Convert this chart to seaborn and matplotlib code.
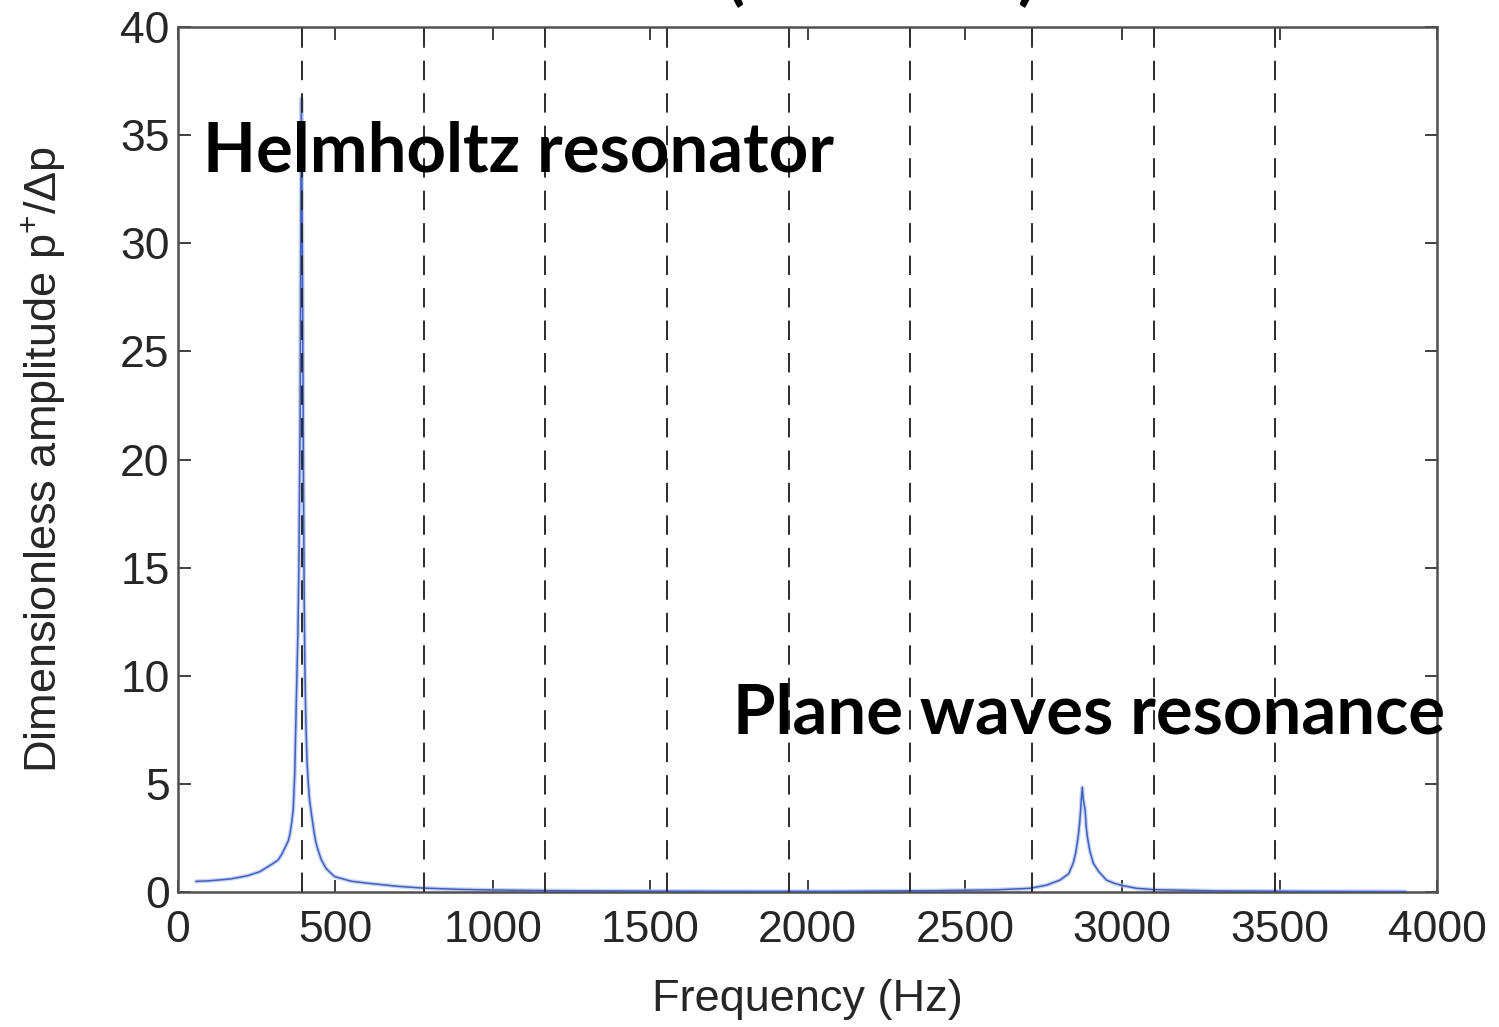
import matplotlib
matplotlib.use("Agg")
import matplotlib.pyplot as plt
import seaborn as sns
import pandas as pd

# Frequency response of the resonator (read at irregular points, denser near the peaks)
freq_hz = [57, 100, 165, 220, 260, 300, 318, 330, 340, 350, 356, 361, 366, 371, 376,
           381, 384, 388, 390, 392, 395, 397, 399, 401, 403, 406, 410, 414, 418, 424,
           432, 438, 445, 455, 470, 480, 498, 550, 600, 700, 780, 900, 1013, 1200,
           1500, 1800, 2100, 2400, 2600, 2707, 2760, 2802, 2830, 2844, 2852, 2860,
           2864, 2868, 2870, 2873, 2876, 2882, 2885, 2889, 2897, 2908, 2925, 2950,
           2975, 3000, 3046, 3100, 3300, 3600, 3900]
amplitude = [0.49, 0.52, 0.60, 0.75, 0.94, 1.30, 1.48, 1.75, 2.05, 2.35, 2.70, 3.20,
             3.80, 5.50, 8.90, 12.0, 15.0, 22.0, 30.0, 36.7, 30.0, 24.0, 18.0, 13.5,
             10.4, 8.0, 6.0, 5.0, 4.25, 3.6, 2.8, 2.3, 1.94, 1.50, 1.10, 0.95, 0.71,
             0.50, 0.41, 0.26, 0.18, 0.12, 0.09, 0.06, 0.04, 0.03, 0.03, 0.06, 0.10,
             0.17, 0.32, 0.55, 0.85, 1.33, 1.80, 2.56, 3.10, 3.80, 4.30, 4.84, 4.30,
             3.80, 3.10, 2.56, 1.90, 1.33, 0.95, 0.55, 0.40, 0.30, 0.17, 0.11, 0.05,
             0.03, 0.02]

# Harmonic reference frequencies shown as dashed lines
harmonics_hz = [394, 782, 1166, 1553, 1941, 2325, 2713, 3101, 3485]

x_ticks = [0, 500, 1000, 1500, 2000, 2500, 3000, 3500, 4000]
y_ticks = [0, 5, 10, 15, 20, 25, 30, 35, 40]

df = pd.DataFrame({"Frequency (Hz)": freq_hz, "amp": amplitude})

sns.set_style("ticks")
plt.rcParams["font.family"] = ["Liberation Sans", "DejaVu Sans"]
plt.rcParams["mathtext.fontset"] = "custom"
plt.rcParams["mathtext.rm"] = "Liberation Sans"
plt.rcParams["mathtext.it"] = "Liberation Sans"

fig = plt.figure(figsize=(14.99, 10.27), dpi=100)
ax = fig.add_axes([178 / 1499, 1 - 892 / 1027, (1437 - 178) / 1499, (892 - 27) / 1027])

# soft halo under the curve, then the curve itself
sns.lineplot(data=df, x="Frequency (Hz)", y="amp", ax=ax, color="#b4c2e8",
             linewidth=3.0, alpha=0.7, zorder=2, legend=False)
sns.lineplot(data=df, x="Frequency (Hz)", y="amp", ax=ax, color="#3f5fc2",
             linewidth=1.1, zorder=3, legend=False)

for h in harmonics_hz:
    ax.axvline(h, color="#2b2b2b", linewidth=1.4, dashes=(10, 6.7), zorder=4)

ax.set_xlim(0, 4000)
ax.set_ylim(0, 40)
ax.set_xticks(x_ticks)
ax.set_yticks(y_ticks)
ax.tick_params(direction="in", length=9, width=1.4, colors="#404040",
               labelcolor="#262626", labelsize=32, top=True, right=True)
ax.tick_params(axis="x", pad=13)
ax.tick_params(axis="y", pad=6)
for s in ax.spines.values():
    s.set_color("#505050")
    s.set_linewidth(1.8)
    s.set_visible(True)

ax.set_xlabel("Frequency (Hz)", fontsize=32.5, color="#262626", labelpad=20)
ax.set_ylabel("Dimensionless amplitude p$^{+}$/\u0394p", fontsize=32.5,
              color="#262626", labelpad=38)

# bold annotations
bold = dict(family=["Lato", "DejaVu Sans"], fontweight="bold", color="black")
t1 = fig.text(203 / 1499, 1 - 172 / 1027, "Helmholtz resonator", fontsize=50,
              va="baseline", ha="left", zorder=10, **bold)
t2 = fig.text(733 / 1499, 1 - 733 / 1027, "Plane waves resonance", fontsize=50,
              va="baseline", ha="left", zorder=10, **bold)
fig.canvas.draw()
r = fig.canvas.get_renderer()
w1 = t1.get_window_extent(r).width
t1.set_fontsize(50 * 632 / w1)
t2.set_fontsize(50 * 632 / w1)

# heading partly outside the canvas
fig.text(735 / 1499, 1 + 3 / 1027, "(", fontsize=t1.get_fontsize(),
         va="baseline", ha="center", **bold)
fig.text(1027 / 1499, 1 + 3 / 1027, ")", fontsize=t1.get_fontsize(),
         va="baseline", ha="center", **bold)

fig.savefig("out.png", dpi=100)
